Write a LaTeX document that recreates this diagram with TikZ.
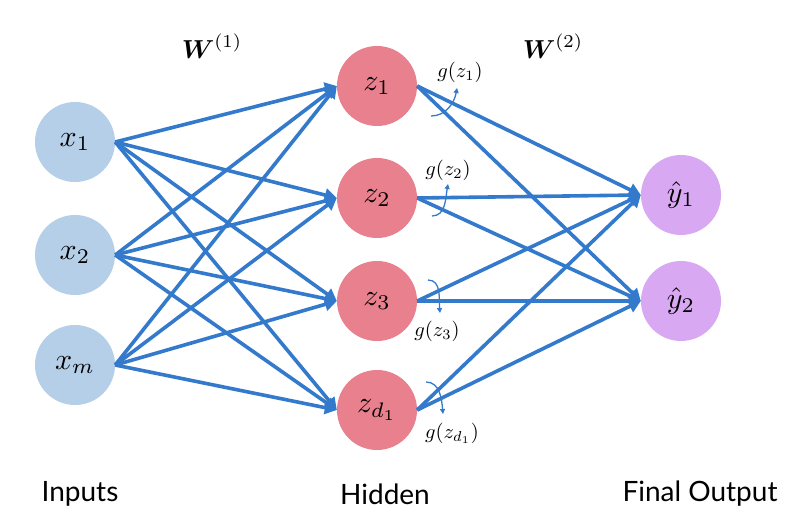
\RequirePackage{fix-cm}
\documentclass[tikz,border=0pt]{standalone}
\usepackage{amsmath}
\usepackage{graphicx}
\usepackage{fontspec}
\setmainfont{Lato}
\usetikzlibrary{arrows.meta}
\definecolor{edgeblue}{RGB}{52,122,204}
\definecolor{inblue}{RGB}{182,207,232}
\definecolor{hidpink}{RGB}{232,128,142}
\definecolor{outviolet}{RGB}{216,168,242}
\newcommand{\nodemath}[1]{\scalebox{3.0}{$#1$}}
\newcommand{\gmath}[1]{\scalebox{2.05}{$#1$}}
\tikzset{
  unit/.style={circle, minimum size=80pt, inner sep=0pt, font=\normalsize},
  inunit/.style={unit, fill=inblue},
  hidunit/.style={unit, fill=hidpink},
  outunit/.style={unit, fill=outviolet},
  conn/.style={draw=edgeblue, line width=3.6pt, -{Triangle[length=12pt,width=13pt]}},
  garrow/.style={draw=edgeblue, line width=1.3pt, -{Triangle[length=5pt,width=5pt]}},
  glabel/.style={font=\normalsize, inner sep=0pt},
  caption/.style={font=\fontsize{28}{32}\selectfont, inner sep=0pt},
  wlabel/.style={font=\normalsize, inner sep=0pt}
}
\begin{document}
\begin{tikzpicture}[x=1pt,y=-1pt]
\fill[white] (0,0) rectangle (792,518);
\useasboundingbox (0,0) rectangle (792,518);
% inputs
\node[inunit] (x1) at (75,142) {\nodemath{x_1}};
\node[inunit] (x2) at (75,255) {\nodemath{x_2}};
\node[inunit] (xm) at (75,365) {\nodemath{x_m}};
% hidden
\node[hidunit] (z1) at (377,86) {\nodemath{z_1}};
\node[hidunit] (z2) at (377,198) {\nodemath{z_2}};
\node[hidunit] (z3) at (377,301) {\nodemath{z_3}};
\node[hidunit] (zd) at (377,410) {\nodemath{z_{d_1}}};
% outputs
\node[outunit] (y1) at (681,195) {\nodemath{\hat{y}_1}};
\node[outunit] (y2) at (681,301) {\nodemath{\hat{y}_2}};
% connectors input -> hidden
\foreach \a in {x1,x2,xm}{
  \foreach \b in {z1,z2,z3,zd}{
    \draw[conn] (\a.east) -- (\b.west);
  }
}
% connectors hidden -> output
\foreach \a in {z1,z2,z3,zd}{
  \foreach \b in {y1,y2}{
    \draw[conn] (\a.east) -- (\b.west);
  }
}
% activation arrows
\coordinate (g1s) at (431,116); \coordinate (g1e) at (457,88);
\coordinate (g2s) at (432,216); \coordinate (g2e) at (448,184);
\coordinate (g3s) at (428,280); \coordinate (g3e) at (440,313);
\coordinate (g4s) at (426,382); \coordinate (g4e) at (443,414);
\draw[garrow] (g1s) to[out=0,in=-100] (g1e);
\draw[garrow] (g2s) to[out=0,in=-100] (g2e);
\draw[garrow] (g3s) to[out=0,in=95] (g3e);
\draw[garrow] (g4s) to[out=0,in=95] (g4e);
\node[glabel] (gl1) at (460,72) {\gmath{g(z_1)}};
\node[glabel] (gl2) at (448,170) {\gmath{g(z_2)}};
\node[glabel] (gl3) at (437,331) {\gmath{g(z_3)}};
\node[glabel] (gl4) at (452,433) {\gmath{g(z_{d_1})}};
% weight labels
\node[wlabel] (w1) at (212,46) {\scalebox{2.6}{$\boldsymbol{W}^{(1)}$}};
\node[wlabel] (w2) at (553,46) {\scalebox{2.6}{$\boldsymbol{W}^{(2)}$}};
% captions
\node[caption] (cin) at (80,494) {Inputs};
\node[caption] (chid) at (385,494) {Hidden};
\node[caption] (cout) at (700,494) {Final Output};
\end{tikzpicture}
\end{document}
